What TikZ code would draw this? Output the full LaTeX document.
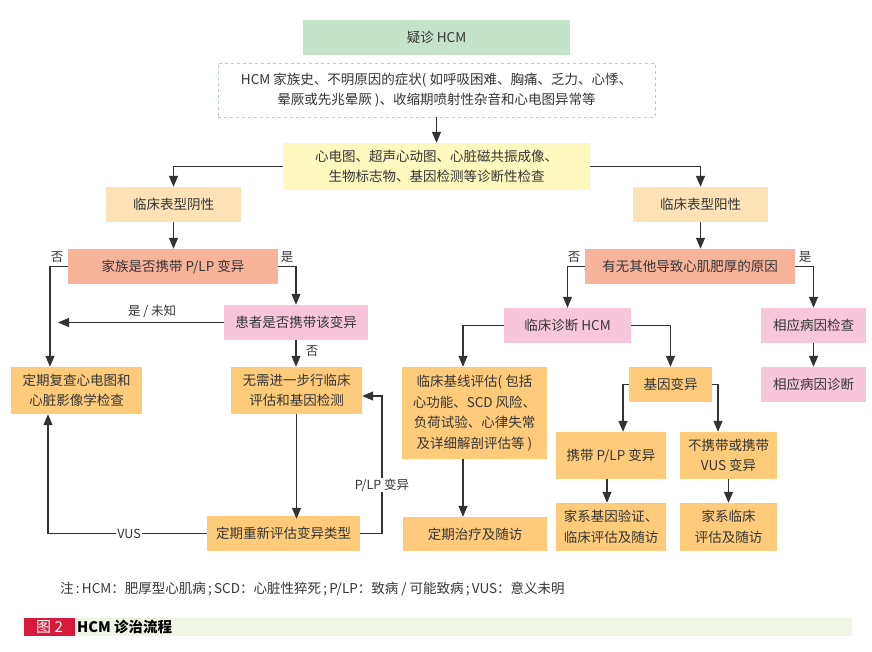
\documentclass[tikz,border=0pt]{standalone}
\usepackage{fontspec}
\setmainfont{Noto Sans CJK SC}
\usetikzlibrary{arrows.meta}
\definecolor{txt}{HTML}{353535}
\definecolor{ln}{HTML}{333333}
\definecolor{cgreen}{HTML}{C4E3CB}
\definecolor{cdash}{HTML}{A9D9B6}
\definecolor{cyellow}{HTML}{FDF8BE}
\definecolor{clight}{HTML}{FCE2B4}
\definecolor{csalmon}{HTML}{F8B39B}
\definecolor{cpink}{HTML}{F7C6DA}
\definecolor{corange}{HTML}{FECB7B}
\definecolor{cred}{HTML}{D7193A}
\definecolor{cband}{HTML}{EFF6E6}
\begin{document}
\begin{tikzpicture}[x=1pt,y=-1pt,
  font=\fontsize{13.5}{20.5}\selectfont,
  box/.style={draw=none, align=center, inner sep=0pt, text=txt},
  arr/.style={-{Triangle[length=11pt,width=9pt]}, draw=ln, line width=1.2pt},
  lab/.style={text=txt, font=\fontsize{12.5}{15}\selectfont, inner sep=1pt}]
\useasboundingbox (0,0) rectangle (872,652);
\fill[white] (0,0) rectangle (872,652);

% boxes
\node[box, fill=cgreen, minimum width=267pt, minimum height=35pt] (top) at (436.5,37.5) {疑诊 HCM};
\node[box, fill=white, draw=cdash, dashed, line width=0.8pt, minimum width=437pt, minimum height=54pt] (sym) at (436.5,90) {HCM 家族史、不明原因的症状( 如呼吸困难、胸痛、乏力、心悸、\\晕厥或先兆晕厥 )、收缩期喷射性杂音和心电图异常等};
\node[box, fill=cyellow, minimum width=307pt, minimum height=47pt] (exam) at (436.5,166.5) {心电图、超声心动图、心脏磁共振成像、\\生物标志物、基因检测等诊断性检查};
\node[box, fill=clight, minimum width=135pt, minimum height=35pt] (neg) at (173.5,204.5) {临床表型阴性};
\node[box, fill=clight, minimum width=135pt, minimum height=35pt] (pos) at (700.5,204.5) {临床表型阳性};
\node[box, fill=csalmon, minimum width=210pt, minimum height=35pt] (fam) at (173,266.5) {家族是否携带 P/LP 变异};
\node[box, fill=cpink, minimum width=144pt, minimum height=35pt] (pat) at (296,322.5) {患者是否携带该变异};
\node[box, fill=corange, minimum width=131pt, minimum height=47pt] (recheck) at (76.5,390.5) {定期复查心电图和\\心脏影像学检查};
\node[box, fill=corange, minimum width=131pt, minimum height=47pt] (noneed) at (296.5,390.5) {无需进一步行临床\\评估和基因检测};
\node[box, fill=corange, minimum width=153pt, minimum height=35pt] (reeval) at (283.5,533.5) {定期重新评估变异类型};
\node[box, fill=csalmon, minimum width=210pt, minimum height=35pt] (other) at (690,266.5) {有无其他导致心肌肥厚的原因};
\node[box, fill=cpink, minimum width=127pt, minimum height=35pt] (clin) at (567.5,325.5) {临床诊断 HCM};
\node[box, fill=cpink, minimum width=105pt, minimum height=35pt] (cause) at (813.5,325.5) {相应病因检查};
\node[box, fill=cpink, minimum width=105pt, minimum height=35pt] (causedx) at (813.5,384.5) {相应病因诊断};
\node[box, fill=corange, minimum width=145pt, minimum height=92pt] (base) at (474.5,413) {临床基线评估( 包括\\心功能、SCD 风险、\\负荷试验、心律失常\\及详细解剖评估等 )};
\node[box, fill=corange, minimum width=144pt, minimum height=34pt] (treat) at (475,534) {定期治疗及随访};
\node[box, fill=corange, minimum width=83pt, minimum height=35pt] (gene) at (670.5,384.5) {基因变异};
\node[box, fill=corange, minimum width=110pt, minimum height=47pt] (carry) at (611,455.5) {携带 P/LP 变异};
\node[box, fill=corange, minimum width=97pt, minimum height=47pt] (noncarry) at (728.5,455.5) {不携带或携带\\VUS 变异};
\node[box, fill=corange, minimum width=110pt, minimum height=48pt] (famver) at (611,527) {家系基因验证、\\临床评估及随访};
\node[box, fill=corange, minimum width=97pt, minimum height=48pt] (famclin) at (728.5,527) {家系临床\\评估及随访};

% connectors
\draw[arr] (sym.south) -- (exam.north);
\draw[arr] (exam.west) -| (neg.north);
\draw[arr] (exam.east) -| (pos.north);
\draw[arr] (neg.south) -- (neg.south |- fam.north);
\draw[arr] (pos.south) -- (pos.south |- other.north);
\draw[arr] (fam.west) -| ([xshift=-26.5pt]recheck.north);
\draw[arr] (fam.east) -| (pat.north);
\coordinate (pl) at (58,322.5);
\draw[arr] (pat.west) -- (pl);
\draw[arr] (pat.south) -- (pat.south |- noneed.north);
\draw[arr] (noneed.south) -- ([yshift=-3pt]noneed.south |- reeval.north);
\draw[arr] (reeval.west) -| ([xshift=-28.5pt]recheck.south);
\coordinate (pr) at (382,396);
\draw[arr] (reeval.east) -| (pr) -- (pr -| noneed.east);
\draw[arr] (other.west) -| (clin.north);
\draw[arr] (other.east) -| (cause.north);
\draw[arr] (cause.south) -- (causedx.north);
\draw[arr] (clin.west) -| ([xshift=-11.5pt]base.north);
\draw[arr] (clin.east) -| (gene.north);
\draw[arr] ([xshift=-11.5pt]base.south) -- ([xshift=-12pt]treat.north);
\draw[arr] (gene.west) -| ([xshift=12pt]carry.north);
\draw[arr] (gene.east) -| ([xshift=-10.5pt]noncarry.north);
\draw[arr] ([xshift=-4pt]carry.south) -- ([xshift=-4pt]famver.north);
\draw[arr] (noncarry.south) -- (famclin.north);

% labels
\node[lab] (l1) at (57,257) {否};
\node[lab] (l2) at (287,257) {是};
\node[lab] (l3) at (152,311) {是 / 未知};
\node[lab] (l4) at (312,351) {否};
\node[lab] (l5) at (574,257) {否};
\node[lab] (l6) at (805,257) {是};
\node[lab, fill=white] (l7) at (129,534) {VUS};
\node[lab, fill=white] (l8) at (382,485) {P/LP 变异};

% footnote and caption
\node[anchor=west, text=txt, inner sep=0pt, font=\fontsize{13.5}{15}\selectfont] (note) at (60,589) {注\,:\,HCM：肥厚型心肌病\,;\,SCD：心脏性猝死\,;\,P/LP：致病 / 可能致病\,;\,VUS：意义未明};
\fill[cband] (75,618) rectangle (852,636);
\node[fill=cred, minimum width=51pt, minimum height=18pt, inner sep=0pt, text=white, font=\fontsize{15}{16}\selectfont] (fig) at (49.5,627) {图 2};
\node[anchor=west, inner sep=0pt, text=black, font=\fontsize{14.5}{16}\selectfont\bfseries] (cap) at (77,627) {HCM 诊治流程};
\end{tikzpicture}
\end{document}
